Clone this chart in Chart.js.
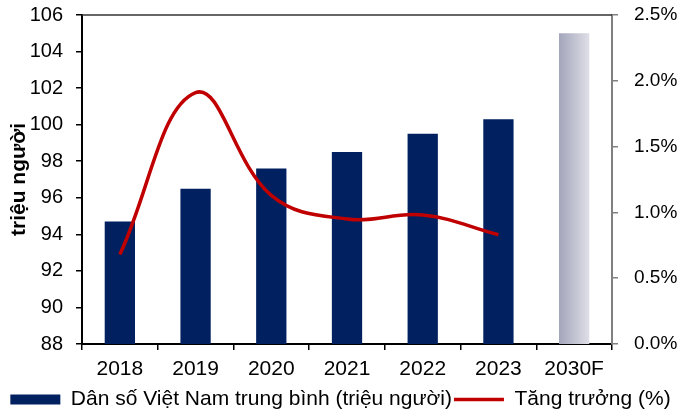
<!DOCTYPE html>
<html>
<head>
<meta charset="utf-8">
<script src="https://cdn.jsdelivr.net/npm/chart.js@4/dist/chart.umd.min.js"></script>
<style>
  html, body { margin: 0; padding: 0; background: #fff; }
  #wrap { width: 681px; height: 414px; }
</style>
</head>
<body>
<div id="wrap"><canvas id="chart"></canvas></div>
<script>
const years = ["2018", "2019", "2020", "2021", "2022", "2023", "2030F"];
const population = [94.7, 96.5, 97.6, 98.5, 99.5, 100.3, 105.0];
const growth = [0.68, 1.91, 1.13, 0.95, 0.98, 0.83, null];
const leftTicks = [88, 90, 92, 94, 96, 98, 100, 102, 104, 106];
const rightTicks = [0, 0.5, 1.0, 1.5, 2.0, 2.5];

const NAVY = "#002060";
const RED = "#C00000";
const FONT = "'Liberation Sans', Arial, sans-serif";

function barColor(context) {
  const chart = context.chart;
  const { ctx, chartArea, scales } = chart;
  if (context.dataIndex !== years.length - 1) return NAVY;
  if (!chartArea || !scales.x) return "#bfc1cf";
  const w = (chartArea.width / years.length) * 0.4;
  const cx = scales.x.getPixelForValue(context.dataIndex);
  const g = ctx.createLinearGradient(cx - w / 2, 0, cx + w / 2, 0);
  g.addColorStop(0, "#a3a5bb");
  g.addColorStop(1, "#dedfe6");
  return g;
}

// draws the top border line of the plot box
const topBorder = {
  id: "topBorder",
  afterDraw(chart) {
    const { ctx, chartArea } = chart;
    ctx.save();
    ctx.strokeStyle = "#333";
    ctx.lineWidth = 1.5;
    ctx.beginPath();
    ctx.moveTo(chartArea.left, chartArea.top);
    ctx.lineTo(chartArea.right, chartArea.top);
    ctx.stroke();
    ctx.restore();
  },
};

Chart.defaults.font.family = FONT;
Chart.defaults.font.size = 21;
Chart.defaults.color = "#000";

new Chart(document.getElementById("chart").getContext("2d"), {
  data: {
    labels: years,
    datasets: [
      {
        type: "line",
        label: "Tăng trưởng (%)",
        data: growth,
        yAxisID: "y1",
        borderColor: RED,
        backgroundColor: RED,
        borderWidth: 3.5,
        pointRadius: 0,
        tension: 0.4,
        pointStyle: "line",
        order: 0,
      },
      {
        type: "bar",
        label: "Dân số Việt Nam trung bình (triệu người)",
        data: population,
        yAxisID: "y",
        backgroundColor: barColor,
        categoryPercentage: 1.0,
        barPercentage: 0.4,
        pointStyle: "rect",
        order: 1,
      },
    ],
  },
  options: {
    responsive: true,
    maintainAspectRatio: false,
    animation: false,
    layout: { padding: { left: 0, right: 0, top: 4, bottom: -6 } },
    plugins: {
      legend: {
        position: "bottom",
        reverse: true,
        labels: {
          usePointStyle: true,
          pointStyleWidth: 50,
          boxHeight: 10,
          padding: 2,
          color: "#000",
          font: { size: 21 },
        },
      },
      tooltip: { enabled: false },
    },
    scales: {
      x: {
        afterFit: (s) => { s.height = 43; },
        grid: {
          display: true,
          offset: true,
          drawOnChartArea: false,
          tickLength: 6,
          color: "#000",
          lineWidth: 1.5,
        },
        border: { color: "#000", width: 2 },
        ticks: { padding: 7, font: { size: 21 } },
      },
      y: {
        position: "left",
        min: 88,
        max: 106,
        afterBuildTicks: (axis) => { axis.ticks = leftTicks.map((v) => ({ value: v })); },
        afterFit: (s) => { s.width = 82; s.paddingTop = 15; s.paddingBottom = 10; },
        grid: {
          drawOnChartArea: false,
          tickLength: 6,
          color: "#000",
          lineWidth: 1.5,
        },
        border: { color: "#000", width: 2 },
        ticks: { padding: 13, font: { size: 20 } },
        title: {
          display: true,
          text: "triệu người",
          font: { size: 21, weight: "bold" },
          padding: { top: 7, bottom: 0 },
        },
      },
      y1: {
        position: "right",
        min: 0,
        max: 2.5,
        afterBuildTicks: (axis) => { axis.ticks = rightTicks.map((v) => ({ value: v })); },
        afterFit: (s) => { s.width = 69; s.paddingTop = 15; s.paddingBottom = 10; },
        grid: {
          drawOnChartArea: false,
          tickLength: 6,
          color: "#808080",
          lineWidth: 1.5,
        },
        border: { color: "#808080", width: 2 },
        ticks: {
          padding: 16,
          font: { size: 19 },
          callback: (v) => v.toFixed(1) + "%",
        },
      },
    },
  },
  plugins: [topBorder],
});
</script>
</body>
</html>
